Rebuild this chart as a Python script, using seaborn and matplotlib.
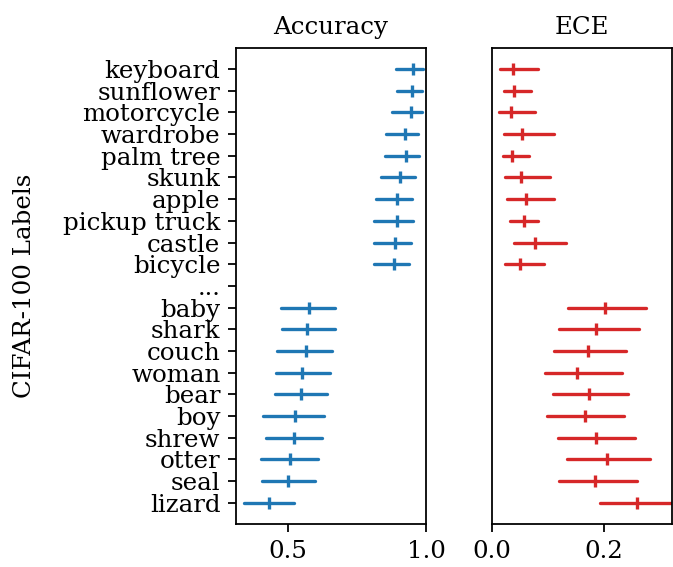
import numpy as np
import pandas as pd
import matplotlib
matplotlib.use("Agg")
import matplotlib.pyplot as plt
import seaborn as sns

# CIFAR-100 classes: ten best and ten worst by accuracy, separated by an ellipsis row
labels = ["keyboard", "sunflower", "motorcycle", "wardrobe", "palm tree", "skunk",
          "apple", "pickup truck", "castle", "bicycle", "...",
          "baby", "shark", "couch", "woman", "bear", "boy", "shrew", "otter",
          "seal", "lizard"]

# accuracy: point estimate and interval bounds per class (no values for "...")
acc_mid = [0.953, 0.949, 0.947, 0.925, 0.926, 0.906, 0.894, 0.894, 0.887, 0.885, None,
           0.575, 0.570, 0.563, 0.551, 0.546, 0.524, 0.521, 0.506, 0.499, 0.430]
acc_lo = [0.891, 0.894, 0.877, 0.854, 0.853, 0.837, 0.819, 0.812, 0.813, 0.813, None,
          0.475, 0.479, 0.460, 0.456, 0.453, 0.410, 0.421, 0.402, 0.405, 0.339]
acc_hi = [0.990, 0.987, 0.984, 0.972, 0.974, 0.960, 0.949, 0.954, 0.944, 0.939, None,
          0.671, 0.670, 0.658, 0.652, 0.641, 0.629, 0.621, 0.610, 0.597, 0.523]

# expected calibration error per class
ece_mid = [0.037, 0.040, 0.034, 0.053, 0.036, 0.052, 0.060, 0.058, 0.077, 0.050, None,
           0.201, 0.186, 0.171, 0.152, 0.173, 0.166, 0.185, 0.206, 0.183, 0.258]
ece_lo = [0.015, 0.021, 0.013, 0.021, 0.019, 0.024, 0.027, 0.032, 0.039, 0.024, None,
          0.136, 0.120, 0.110, 0.094, 0.108, 0.099, 0.118, 0.133, 0.119, 0.193]
ece_hi = [0.082, 0.070, 0.076, 0.110, 0.066, 0.103, 0.111, 0.082, 0.132, 0.093, None,
          0.275, 0.263, 0.239, 0.231, 0.243, 0.235, 0.255, 0.282, 0.259, 0.330]


def long_form(mid, lo, hi):
    rows = []
    for lab, m, a, b in zip(labels, mid, lo, hi):
        if m is None:
            continue
        for v in (a, m, b):
            rows.append({"label": lab, "value": v})
    return pd.DataFrame(rows)


acc_df = long_form(acc_mid, acc_lo, acc_hi)
ece_df = long_form(ece_mid, ece_lo, ece_hi)

FS = 11
sns.set_theme(style="ticks")
plt.rcParams["font.family"] = ["DejaVu Serif"]
plt.rcParams.update({
    "font.size": FS,
    "axes.linewidth": 0.8,
    "xtick.major.size": 3.5,
    "ytick.major.size": 3.5,
    "xtick.labelsize": FS,
    "ytick.labelsize": FS,
    "text.color": "black",
    "axes.labelcolor": "black",
    "axes.edgecolor": "black",
    "xtick.color": "black",
    "ytick.color": "black",
})

fig = plt.figure(figsize=(673 / 160, 567 / 160), dpi=160)
ax_acc = fig.add_axes([0.3507, 0.0758, 0.2823, 0.8400])
ax_ece = fig.add_axes([0.7310, 0.0758, 0.2675, 0.8400])

n = len(labels)
for ax, df, color in [(ax_acc, acc_df, "#1f77b4"), (ax_ece, ece_df, "#d62728")]:
    sns.pointplot(data=df, x="value", y="label", order=labels, orient="h",
                  estimator="median", errorbar=("pi", 100),
                  color=color, marker="|", markersize=5.5, markeredgewidth=1.5,
                  linestyle="none", err_kws={"linewidth": 1.5}, ax=ax)
    ax.set_ylim(n - 1 + 0.98, -0.98)
    ax.set_xlabel("")
    ax.set_ylabel("")
    for s in ax.spines.values():
        s.set_visible(True)
        s.set_color("black")
        s.set_linewidth(0.8)
    ax.tick_params(colors="black", labelcolor="black", length=3.5, width=0.8)

ax_acc.set_xlim(0.311, 1.0)
ax_acc.set_xticks([0.5, 1.0])
ax_acc.set_title("Accuracy", fontsize=FS, pad=6, color="black")
ax_acc.set_ylabel("CIFAR-100 Labels", fontsize=FS, labelpad=12, color="black")

ax_ece.set_xlim(0.0, 0.321)
ax_ece.set_xticks([0.0, 0.2])
ax_ece.set_yticks([])
ax_ece.set_title("ECE", fontsize=FS, pad=6, color="black")

fig.savefig("out.png", dpi=160)
